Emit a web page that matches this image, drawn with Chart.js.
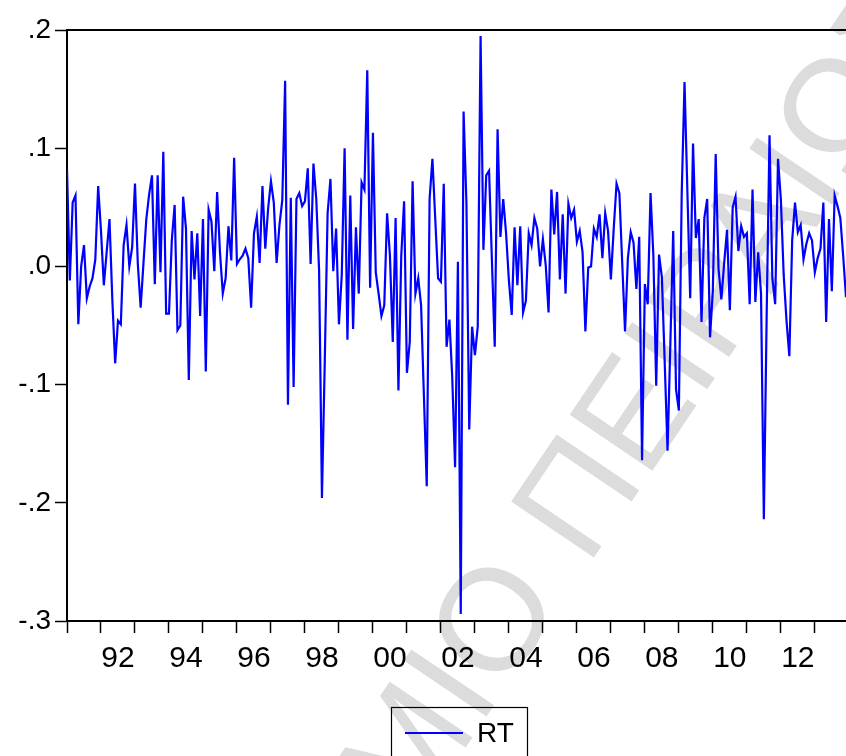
<!DOCTYPE html>
<html>
<head>
<meta charset="utf-8">
<script src="https://cdn.jsdelivr.net/npm/chart.js@4/dist/chart.umd.min.js"></script>
<style>
html,body{margin:0;padding:0;background:#fff;}
#wrap{width:846px;height:756px;position:relative;}
</style>
</head>
<body>
<div id="wrap"><canvas id="c" width="846" height="756"></canvas></div>
<script>
// Monthly series RT, 1991M01 .. 2013M12
const startYear = 1991;
const seriesName = 'RT';
const rt = [
 0.082,-0.012,0.054,0.060,-0.049,0.000,0.018,-0.027,-0.017,-0.010,
 0.006,0.068,0.030,-0.016,0.012,0.040,-0.028,-0.082,-0.046,-0.049,
 0.018,0.035,0.000,0.016,0.070,0.002,-0.035,0.003,0.040,0.061,
 0.077,-0.015,0.077,-0.005,0.097,-0.040,-0.040,0.022,0.052,-0.054,
 -0.050,0.059,0.032,-0.096,0.030,-0.011,0.028,-0.042,0.040,-0.089,
 0.048,0.038,-0.004,0.063,0.012,-0.023,-0.010,0.034,0.005,0.092,
 0.002,0.006,0.009,0.015,0.007,-0.035,0.028,0.042,0.003,0.068,
 0.015,0.049,0.072,0.054,0.003,0.035,0.056,0.157,-0.117,0.058,
 -0.102,0.057,0.062,0.051,0.055,0.083,0.002,0.087,0.057,-0.004,
 -0.196,-0.080,0.045,0.074,-0.004,0.032,-0.049,-0.007,0.100,-0.062,
 0.060,-0.053,0.033,-0.023,0.071,0.065,0.166,-0.018,0.113,-0.005,
 -0.023,-0.042,-0.033,0.045,0.009,-0.064,0.041,-0.105,0.009,0.055,
 -0.090,-0.064,0.072,-0.023,-0.010,-0.033,-0.110,-0.186,0.057,0.091,
 0.040,-0.010,-0.013,0.070,-0.068,-0.045,-0.094,-0.170,0.004,-0.294,
 0.131,0.054,-0.138,-0.051,-0.075,-0.051,0.195,0.014,0.077,0.081,
 0.005,-0.068,0.116,0.025,0.057,0.028,-0.012,-0.041,0.033,-0.016,
 0.034,-0.039,-0.029,0.028,0.018,0.041,0.032,0.000,0.023,0.001,
 -0.039,0.065,0.027,0.063,-0.011,0.044,-0.023,0.053,0.041,0.048,
 0.021,0.030,0.012,-0.055,-0.001,0.000,0.032,0.025,0.044,0.007,
 0.045,0.030,-0.011,0.032,0.070,0.062,0.003,-0.055,0.007,0.029,
 0.020,-0.019,0.025,-0.164,-0.015,-0.032,0.062,0.009,-0.101,0.010,
 -0.009,-0.081,-0.156,-0.065,0.030,-0.104,-0.122,0.061,0.156,0.064,
 -0.027,0.104,0.024,0.040,-0.047,0.041,0.057,-0.060,-0.020,0.095,
 -0.002,-0.028,0.003,0.031,-0.037,0.050,0.059,0.013,0.034,0.025,
 0.028,-0.032,0.065,-0.030,0.012,-0.023,-0.214,-0.040,0.111,-0.010,
 -0.032,0.091,0.057,-0.007,-0.046,-0.076,0.022,0.054,0.029,0.035,
 0.006,0.019,0.028,0.022,-0.005,0.007,0.015,0.054,-0.047,0.040,
 -0.021,0.060,0.051,0.041,0.009,-0.026
];
const xTickLabels = ['92','94','96','98','00','02','04','06','08','10','12'];
const yTickValues = [-0.3,-0.2,-0.1,0.0,0.1,0.2];
const yTickLabels = ['-.3','-.2','-.1','.0','.1','.2'];
const watermark = 'ΠΑΝΕΠΙΣΤΗΜΙΟ ΠΕΙΡΑΙΩΣ';

const points = rt.map((v, i) => ({x: i, y: v}));
const nYears = Math.ceil(rt.length / 12);
const labelByYear = {};
xTickLabels.forEach(l => { const y = parseInt(l, 10); labelByYear[(y < 50 ? 2000 : 1900) + y] = l; });

const FONT = '"Liberation Sans", Arial, sans-serif';

const watermarkPlugin = {
  id: 'wm',
  beforeDraw(chart) {
    const ctx = chart.ctx;
    ctx.save();
    ctx.fillStyle = '#dcdcdc';
    ctx.font = '145px ' + FONT;
    const prefix = ctx.measureText('ΠΑΝΕΠΙΣΤΗΜΙ').width;
    const oW = ctx.measureText('Ο').width;
    ctx.translate(500, 625);
    ctx.rotate(-56 * Math.PI / 180);
    ctx.textBaseline = 'middle';
    ctx.fillText(watermark, -prefix - oW / 2, 0);
    ctx.restore();
  }
};

const framePlugin = {
  id: 'frame',
  afterDraw(chart) {
    const {ctx, chartArea} = chart;
    ctx.save();
    ctx.strokeStyle = '#000';
    ctx.lineWidth = 2;
    ctx.beginPath();
    ctx.moveTo(chartArea.left - 1, chartArea.top);
    ctx.lineTo(chartArea.right, chartArea.top);
    ctx.stroke();
    // legend box
    const ds = chart.data.datasets[0];
    const bx = 391, by = 707, bw = 136, bh = 60;
    ctx.lineWidth = 1.2;
    ctx.strokeRect(bx + 0.5, by + 0.5, bw, bh);
    ctx.strokeStyle = ds.borderColor;
    ctx.lineWidth = 2;
    ctx.beginPath();
    ctx.moveTo(405, 733);
    ctx.lineTo(463, 733);
    ctx.stroke();
    ctx.fillStyle = '#000';
    ctx.font = '28px ' + FONT;
    ctx.textBaseline = 'middle';
    ctx.textAlign = 'left';
    ctx.fillText(ds.label, 477, 734);
    ctx.restore();
  }
};

new Chart(document.getElementById('c'), {
  type: 'line',
  data: {
    datasets: [{
      label: seriesName,
      data: points,
      borderColor: '#0000ff',
      borderWidth: 2.2,
      pointRadius: 0,
      tension: 0,
      fill: false
    }]
  },
  options: {
    responsive: false,
    animation: false,
    devicePixelRatio: 1,
    layout: {padding: {top: 30, right: 0, bottom: 0, left: 0}},
    plugins: {legend: {display: false}, tooltip: {enabled: false}},
    scales: {
      x: {
        type: 'linear',
        min: 0,
        max: rt.length - 1,
        afterBuildTicks(scale) {
          const t = [];
          for (let k = 0; k < nYears; k++) {
            t.push({value: 12 * k});
            if (labelByYear[startYear + k]) t.push({value: 12 * k + 6});
          }
          scale.ticks = t;
        },
        afterFit(scale) { scale.height = 135; },
        ticks: {
          autoSkip: false,
          maxRotation: 0,
          padding: 8,
          color: '#000',
          font: {family: FONT, size: 30},
          callback(value) {
            if (value % 12 === 6) return labelByYear[startYear + Math.floor(value / 12)] || '';
            return '';
          }
        },
        grid: {
          drawOnChartArea: false,
          drawTicks: true,
          tickLength: 12,
          tickWidth: 1.5,
          color(ctx) { return (ctx.tick && ctx.tick.value % 12 === 0) ? '#000' : 'rgba(0,0,0,0)'; }
        },
        border: {display: true, color: '#000', width: 2}
      },
      y: {
        type: 'linear',
        min: -0.3,
        max: 0.2,
        afterBuildTicks(scale) { scale.ticks = yTickValues.map(v => ({value: v})); },
        afterFit(scale) { scale.width = 67; },
        ticks: {
          autoSkip: false,
          padding: 4,
          color: '#000',
          font: {family: FONT, size: 28},
          callback(value) {
            const idx = yTickValues.findIndex(v => Math.abs(v - value) < 1e-9);
            return idx >= 0 ? yTickLabels[idx] : '';
          }
        },
        grid: {drawOnChartArea: false, drawTicks: true, tickLength: 12, tickWidth: 1.5, color: '#000'},
        border: {display: true, color: '#000', width: 2}
      }
    }
  },
  plugins: [watermarkPlugin, framePlugin]
});
</script>
</body>
</html>
